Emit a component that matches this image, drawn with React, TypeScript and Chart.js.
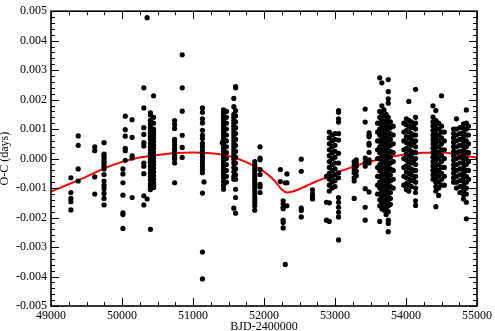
import React, { useEffect, useRef } from 'react';
import { Chart, registerables } from 'chart.js';
Chart.register(...registerables);

// Observation nights: BJD-2400000 of each column and the O-C values (days) measured there
const colBJD = [
  49280, 49383, 49616, 49747, 50013, 50046, 50143, 50307, 50354, 50400, 50445,
  50741, 50848, 51133, 51155, 51413, 51430, 51470, 51575, 51600, 51870, 51945,
  52230, 52270, 52300, 52323, 52525, 52683, 52880,
  52920, 52960, 53000, 53050, 53270, 53300, 53425, 53480,
  53600, 53630, 53660, 53690, 53720, 53750, 53780, 53820,
  53970, 54005, 54040, 54075, 54105, 54135,
  54380, 54420, 54460, 54500, 54540,
  54670, 54710, 54760, 54810, 54850, 54880,
];

const colOC = [
  [-0.00065, -0.00115, -0.00135, -0.00146, -0.00174],
  [0.00077, 0.00045, -0.00035, -0.00076],
  [0.0004, 0.00027, -0.00062, -0.0012],
  [0.00054, 0.00015, 0.00007, -0.00001, -0.0001, -0.00017, -0.00026, -0.00035, -0.00054, -0.00076, -0.00091, -0.00102, -0.00118, -0.00135, -0.00157],
  [-0.00035, -0.00052, -0.00082, -0.00124, -0.00184, -0.0019, -0.00237],
  [0.00144, 0.00098, 0.00076, 0.00035, 0.00027, -0.00006],
  [0.00132, 0.00072, 0.00009, 0.00002, -0.00132],
  [0.0024, 0.00172, 0.00105, 0.00082, 0.00054, 0.00043, -0.00015, -0.00026, -0.00051, -0.00126, -0.00157],
  [0.00478, -0.00137],
  [0.00155, 0.00148, 0.0013, 0.00118, 0.00105, 0.00095, 0.00085, 0.00075, 0.00065, 0.00052, 0.0004, 0.0003, 0.00018, 0.00008, -0.00002, -0.00012, -0.00025, -0.00035, -0.00048, -0.0006, -0.00072, -0.00085, -0.00095, -0.00105, -0.0024],
  [0.00213, 0.0014, 0.0012, 0.001, 0.0009, 0.0008, 0.0007, 0.00058, 0.00045, 0.00035, 0.00022, 0.0001, 0.00002, -0.0001, -0.0002, -0.00032, -0.00045, -0.00058, -0.0007, -0.00082, -0.0009, -0.00098],
  [0.00129, 0.00116, 0.00102, 0.00065, 0.00057, 0.00046, 0.00035, 0.00027, 0.00016, 0.00007, -0.00002, -0.00015, -0.00082],
  [0.00352, 0.0024, 0.00161, 0.00079, 0.00038, 0.00004],
  [0.00172, 0.00157, 0.00135, 0.00121, 0.00096, 0.00079, 0.00068, 0.00052, 0.00041, 0.00029, 0.00018, 0.00007, -0.00004, -0.00015, -0.00026, -0.00037, -0.00048, -0.00117, -0.00317, -0.00408],
  [-0.00079],
  [0.00054],
  [0.00165, 0.00155, 0.00145, 0.00135, 0.00125, 0.00115, 0.00105, 0.00095, 0.00085, 0.00075, 0.00065, 0.00055, 0.00045, 0.00035, 0.00025, 0.00015, 0.00005, -0.00005, -0.00015, -0.00025, -0.00035, -0.00045, -0.00055, -0.00065, -0.00078, -0.00092, -0.00104],
  [0.0016, 0.0014, 0.0012, 0.001, 0.0008, 0.0006, 0.0004, 0.0002, 0.0, -0.0002, -0.0004, -0.0006, -0.0008],
  [0.00204, 0.00176, 0.0015, 0.0014, 0.0013, 0.0012, 0.0011, 0.001, 0.0009, 0.0008, 0.0007, 0.0006, 0.0005, 0.0004, 0.0003, 0.0002, 0.0001, -0.00002, -0.00015, -0.0003, -0.00045, -0.0006, -0.0007, -0.00168],
  [0.00244, 0.0024, 0.00163, 0.00145, 0.00125, 0.00105, 0.00085, 0.00065, 0.00045, 0.00025, 0.00005, -0.00015, -0.00035, -0.00055, -0.0007, -0.00104, -0.00132, -0.00185],
  [-0.0001, -0.0002, -0.0003, -0.0004, -0.0005, -0.0006, -0.0007, -0.0008, -0.0009, -0.001, -0.0011, -0.0012, -0.0013, -0.0014, -0.0015, -0.0016, -0.00175],
  [0.0004, 0.00002, -0.00004, -0.00037, -0.00054, -0.00087, -0.00096, -0.00115],
  [-0.00037, -0.00078],
  [-0.00143, -0.00154, -0.00165, -0.0017, -0.00209, -0.00217, -0.00235],
  [-0.00082, -0.00359],
  [-0.00052, -0.00082, -0.0016],
  [-0.00002, -0.00043, -0.00168, -0.00176, -0.00198],
  [-0.00106, -0.00128, -0.00137, -0.0012],
  [-0.0006, -0.00148, -0.00209],
  [0.0009, 0.0007, 0.0005, 0.0003, 0.0001, -0.0001, -0.0003, -0.0005, -0.0007, -0.0009, -0.0011, -0.0015, -0.00213],
  [0.0008, 0.0006, 0.0004, 0.0002, 0.0, -0.0002, -0.0004, -0.0006, -0.0008, -0.001],
  [0.00085, 0.00065, 0.00045, 0.00025, 0.00005, -0.00015, -0.00035, -0.00055, -0.00075, -0.00095],
  [0.00163, 0.00157, 0.00135, 0.00124, 0.00085, 0.00063, 0.00018, -0.00015, -0.00048, -0.00065, -0.00132, -0.00148, -0.00165, -0.00182, -0.00198, -0.00276],
  [-0.0001, -0.00022, -0.00037, -0.00048, -0.00065, -0.00076, -0.00135],
  [-0.00004, -0.00015, -0.00026, -0.00043, -0.00058],
  [0.00168, 0.00124, 0.00002, -0.00013, -0.00026, -0.00102, -0.00165, -0.00209],
  [0.00087, 0.00079, 0.00074, 0.00052, 0.00046, 0.00021, -0.00004, -0.00015, -0.00113],
  [0.0012, 0.0009, 0.0006, 0.0003, 0.0, -0.0003, -0.0006, -0.0009, -0.0012],
  [0.00274, 0.0016, 0.0014, 0.0012, 0.001, 0.0008, 0.0006, 0.0004, 0.0002, 0.0, -0.0002, -0.0004, -0.0006, -0.0008, -0.001, -0.0012, -0.0014, -0.0016, -0.00213],
  [0.00257, 0.00179, 0.0015, 0.0013, 0.0011, 0.0009, 0.0007, 0.0005, 0.0003, 0.0001, -0.0001, -0.0003, -0.0005, -0.0007, -0.0009, -0.0011, -0.0013, -0.0015, -0.0017],
  [0.00165, 0.00145, 0.00125, 0.00105, 0.00085, 0.00065, 0.00045, 0.00025, 0.00005, -0.00015, -0.00035, -0.00055, -0.00075, -0.00095, -0.00115, -0.00135, -0.00155, -0.00175],
  [0.0015, 0.0013, 0.0011, 0.0009, 0.0007, 0.0005, 0.0003, 0.0001, -0.0001, -0.0003, -0.0005, -0.0007, -0.0009, -0.0011, -0.0013, -0.0015, -0.0017, -0.0019],
  [0.00268, 0.00227, 0.00203, 0.00188, 0.0014, 0.0012, 0.001, 0.0008, 0.0006, 0.0004, 0.0002, 0.0, -0.0002, -0.0004, -0.0006, -0.0008, -0.001, -0.0012, -0.0014, -0.0016, -0.0018, -0.00209, -0.0022, -0.00248],
  [0.00125, 0.00105, 0.00085, 0.00065, 0.00045, 0.00025, 0.00005, -0.00015, -0.00035, -0.00055, -0.00075, -0.00095, -0.00115, -0.00135, -0.00155],
  [0.0011, 0.0008, 0.0005, 0.0002, -0.0001, -0.0004, -0.0007, -0.001],
  [0.0012, 0.0009, 0.0006, 0.0003, 0.0, -0.0003, -0.0006, -0.0009],
  [0.00135, 0.00115, 0.00095, 0.00075, 0.00055, 0.00035, 0.00015, -0.00005, -0.00025, -0.00045, -0.00065, -0.00085, -0.00105],
  [0.00194, 0.0013, 0.0011, 0.0009, 0.0007, 0.0005, 0.0003, 0.0001, -0.0001, -0.0003, -0.0005, -0.0007, -0.0009, -0.0011],
  [0.00125, 0.00105, 0.00085, 0.00065, 0.00045, 0.00025, 0.00005, -0.00015, -0.00035, -0.00055, -0.00075, -0.00095],
  [0.0011, 0.0008, 0.0005, 0.0002, -0.0001, -0.0004, -0.0007],
  [0.00235, 0.0014, 0.0012, 0.001, 0.0008, 0.0006, 0.0004, 0.0002, 0.0, -0.0002, -0.0004, -0.0006, -0.0008, -0.001, -0.00115, -0.00143, -0.00159],
  [0.00179, 0.00141, 0.00125, 0.0011, 0.00095, 0.0008, 0.00065, 0.0005, 0.00035, 0.0002, 0.00005, -0.0001, -0.00025, -0.0004, -0.00055, -0.0007],
  [0.00163, 0.0013, 0.00115, 0.001, 0.00085, 0.0007, 0.00055, 0.0004, 0.00025, 0.0001, -0.00005, -0.0002, -0.00035, -0.0005, -0.00065, -0.0008, -0.00095, -0.0011, -0.00163],
  [0.0012, 0.001, 0.0008, 0.0006, 0.0004, 0.0002, 0.0, -0.0002, -0.0004, -0.0006, -0.0008, -0.001, -0.00125],
  [0.00213, 0.0011, 0.0009, 0.0007, 0.0005, 0.0003, 0.0001, -0.0001, -0.0003, -0.0005, -0.0007, -0.0009],
  [0.0009, 0.0006, 0.0003, 0.0, -0.0003, -0.0006, -0.0009],
  [0.001, 0.00085, 0.0007, 0.00055, 0.0004, 0.00025, 0.0001, -0.00005, -0.0002, -0.00035, -0.0005, -0.00065, -0.0008],
  [0.00135, 0.001, 0.0008, 0.0006, 0.0004, 0.0002, 0.0, -0.0002, -0.0004, -0.0006, -0.0008, -0.001],
  [0.00105, 0.00085, 0.00065, 0.00045, 0.00025, 0.00005, -0.00015, -0.00035, -0.00055, -0.00075, -0.00095, -0.00115],
  [0.00118, 0.00103, 0.00088, 0.00073, 0.00058, 0.00043, 0.00028, 0.00013, -0.00002, -0.00017, -0.00032, -0.00047, -0.00062, -0.00077, -0.00092, -0.00107, -0.00122, -0.00137],
  [0.00165, 0.0012, 0.001, 0.0008, 0.0006, 0.0004, 0.0002, 0.0, -0.0002, -0.0004, -0.0006, -0.0008, -0.001, -0.0012, -0.00148, -0.00204],
  [0.0011, 0.0008, 0.0005, 0.0002, -0.0001, -0.0004, -0.0007],
];

// Red model curve
const fitBJD = [49000, 49250, 49500, 49750, 50000, 50250, 50500, 50750, 51000, 51250, 51500, 51750, 52000, 52150, 52250, 52330, 52450, 52600, 52750, 52900, 53050, 53250, 53500, 53750, 54000, 54250, 54500, 54750, 55000];
const fitOC = [-0.00112, -0.00087, -0.00061, -0.00033, -0.00011, 0.00004, 0.00012, 0.00019, 0.00021, 0.00018, 0.00009, -0.00012, -0.00044, -0.00075, -0.00105, -0.00115, -0.00108, -0.00092, -0.00076, -0.00062, -0.00045, -0.00028, -0.0001, 0.00004, 0.00015, 0.0002, 0.00021, 0.00013, 0.00003];

const FONT = 'Liberation Serif, Times New Roman, serif';

export default function App() {
  const ref = useRef<HTMLCanvasElement>(null);
  useEffect(() => {
    const points: { x: number; y: number }[] = [];
    colBJD.forEach((x, i) => colOC[i].forEach((y) => points.push({ x, y })));
    const fit = fitBJD.map((x, i) => ({ x, y: fitOC[i] }));

    const frame = {
      id: 'frame',
      afterDraw(chart: any) {
        const { ctx, chartArea } = chart;
        const { left, right, top, bottom } = chartArea;
        const xs = chart.scales.x;
        const ys = chart.scales.y;
        ctx.save();
        ctx.strokeStyle = '#000';
        ctx.lineWidth = 1;
        for (let v = 49000; v <= 55000; v += 250) {
          const p = Math.round(xs.getPixelForValue(v)) + 0.5;
          const len = v % 1000 === 0 ? 8 : 4;
          ctx.beginPath();
          ctx.moveTo(p, bottom);
          ctx.lineTo(p, bottom - len);
          ctx.moveTo(p, top);
          ctx.lineTo(p, top + len);
          ctx.stroke();
        }
        for (let k = -25; k <= 25; k++) {
          const v = k * 0.0002;
          const p = Math.round(ys.getPixelForValue(v)) + 0.5;
          const len = k % 5 === 0 ? 8 : 4;
          ctx.beginPath();
          ctx.moveTo(left, p);
          ctx.lineTo(left + len, p);
          ctx.moveTo(right, p);
          ctx.lineTo(right - len, p);
          ctx.stroke();
        }
        ctx.lineWidth = 1.6;
        ctx.strokeRect(left, top, right - left, bottom - top);
        ctx.restore();
      },
    };

    const chart = new Chart(ref.current as HTMLCanvasElement, {
      type: 'scatter',
      data: {
        datasets: [
          {
            data: points,
            pointRadius: 2.6,
            pointHoverRadius: 2.6,
            backgroundColor: '#000',
            borderWidth: 0,
            showLine: false,
            order: 0,
          },
          {
            data: fit,
            showLine: true,
            pointRadius: 0,
            borderColor: '#ff0000',
            borderWidth: 2,
            tension: 0.4,
            cubicInterpolationMode: 'monotone',
            fill: false,
            order: 1,
          } as any,
        ],
      },
      options: {
        responsive: false,
        animation: false,
        events: [],
        layout: { padding: { top: 5, right: 16, left: 0, bottom: 0 } },
        plugins: { legend: { display: false }, tooltip: { enabled: false } },
        scales: {
          x: {
            type: 'linear',
            min: 49000,
            max: 55000,
            grid: { display: false, drawTicks: false },
            border: { display: false },
            ticks: {
              stepSize: 1000,
              autoSkip: false,
              maxRotation: 0,
              padding: 3,
              color: '#000',
              font: { family: FONT, size: 12 },
              callback: (v: any) => String(v),
            },
            title: {
              display: true,
              text: 'BJD-2400000',
              color: '#000',
              font: { family: FONT, size: 12 },
              padding: { top: 0, bottom: -3 },
            },
            afterFit: (s: any) => {
              s.height = 25;
            },
          },
          y: {
            type: 'linear',
            min: -0.005,
            max: 0.005,
            grid: { display: false, drawTicks: false },
            border: { display: false },
            ticks: {
              stepSize: 0.001,
              autoSkip: false,
              padding: 4,
              color: '#000',
              font: { family: FONT, size: 12 },
              callback: (v: any) => (Math.abs(v) < 1e-9 ? '0.000' : Number(v).toFixed(3)),
            },
            title: {
              display: true,
              text: 'O-C (days)',
              color: '#000',
              font: { family: FONT, size: 12 },
              padding: { top: -2, bottom: 0 },
            },
            afterFit: (s: any) => {
              s.width = 51;
            },
          },
        },
      },
      plugins: [frame],
    });
    return () => chart.destroy();
  }, []);

  return (
    <div style={{ position: 'fixed', left: 0, top: 0, width: 495, height: 331, background: '#fff' }}>
      <canvas ref={ref} width={495} height={331} style={{ display: 'block' }} />
    </div>
  );
}
